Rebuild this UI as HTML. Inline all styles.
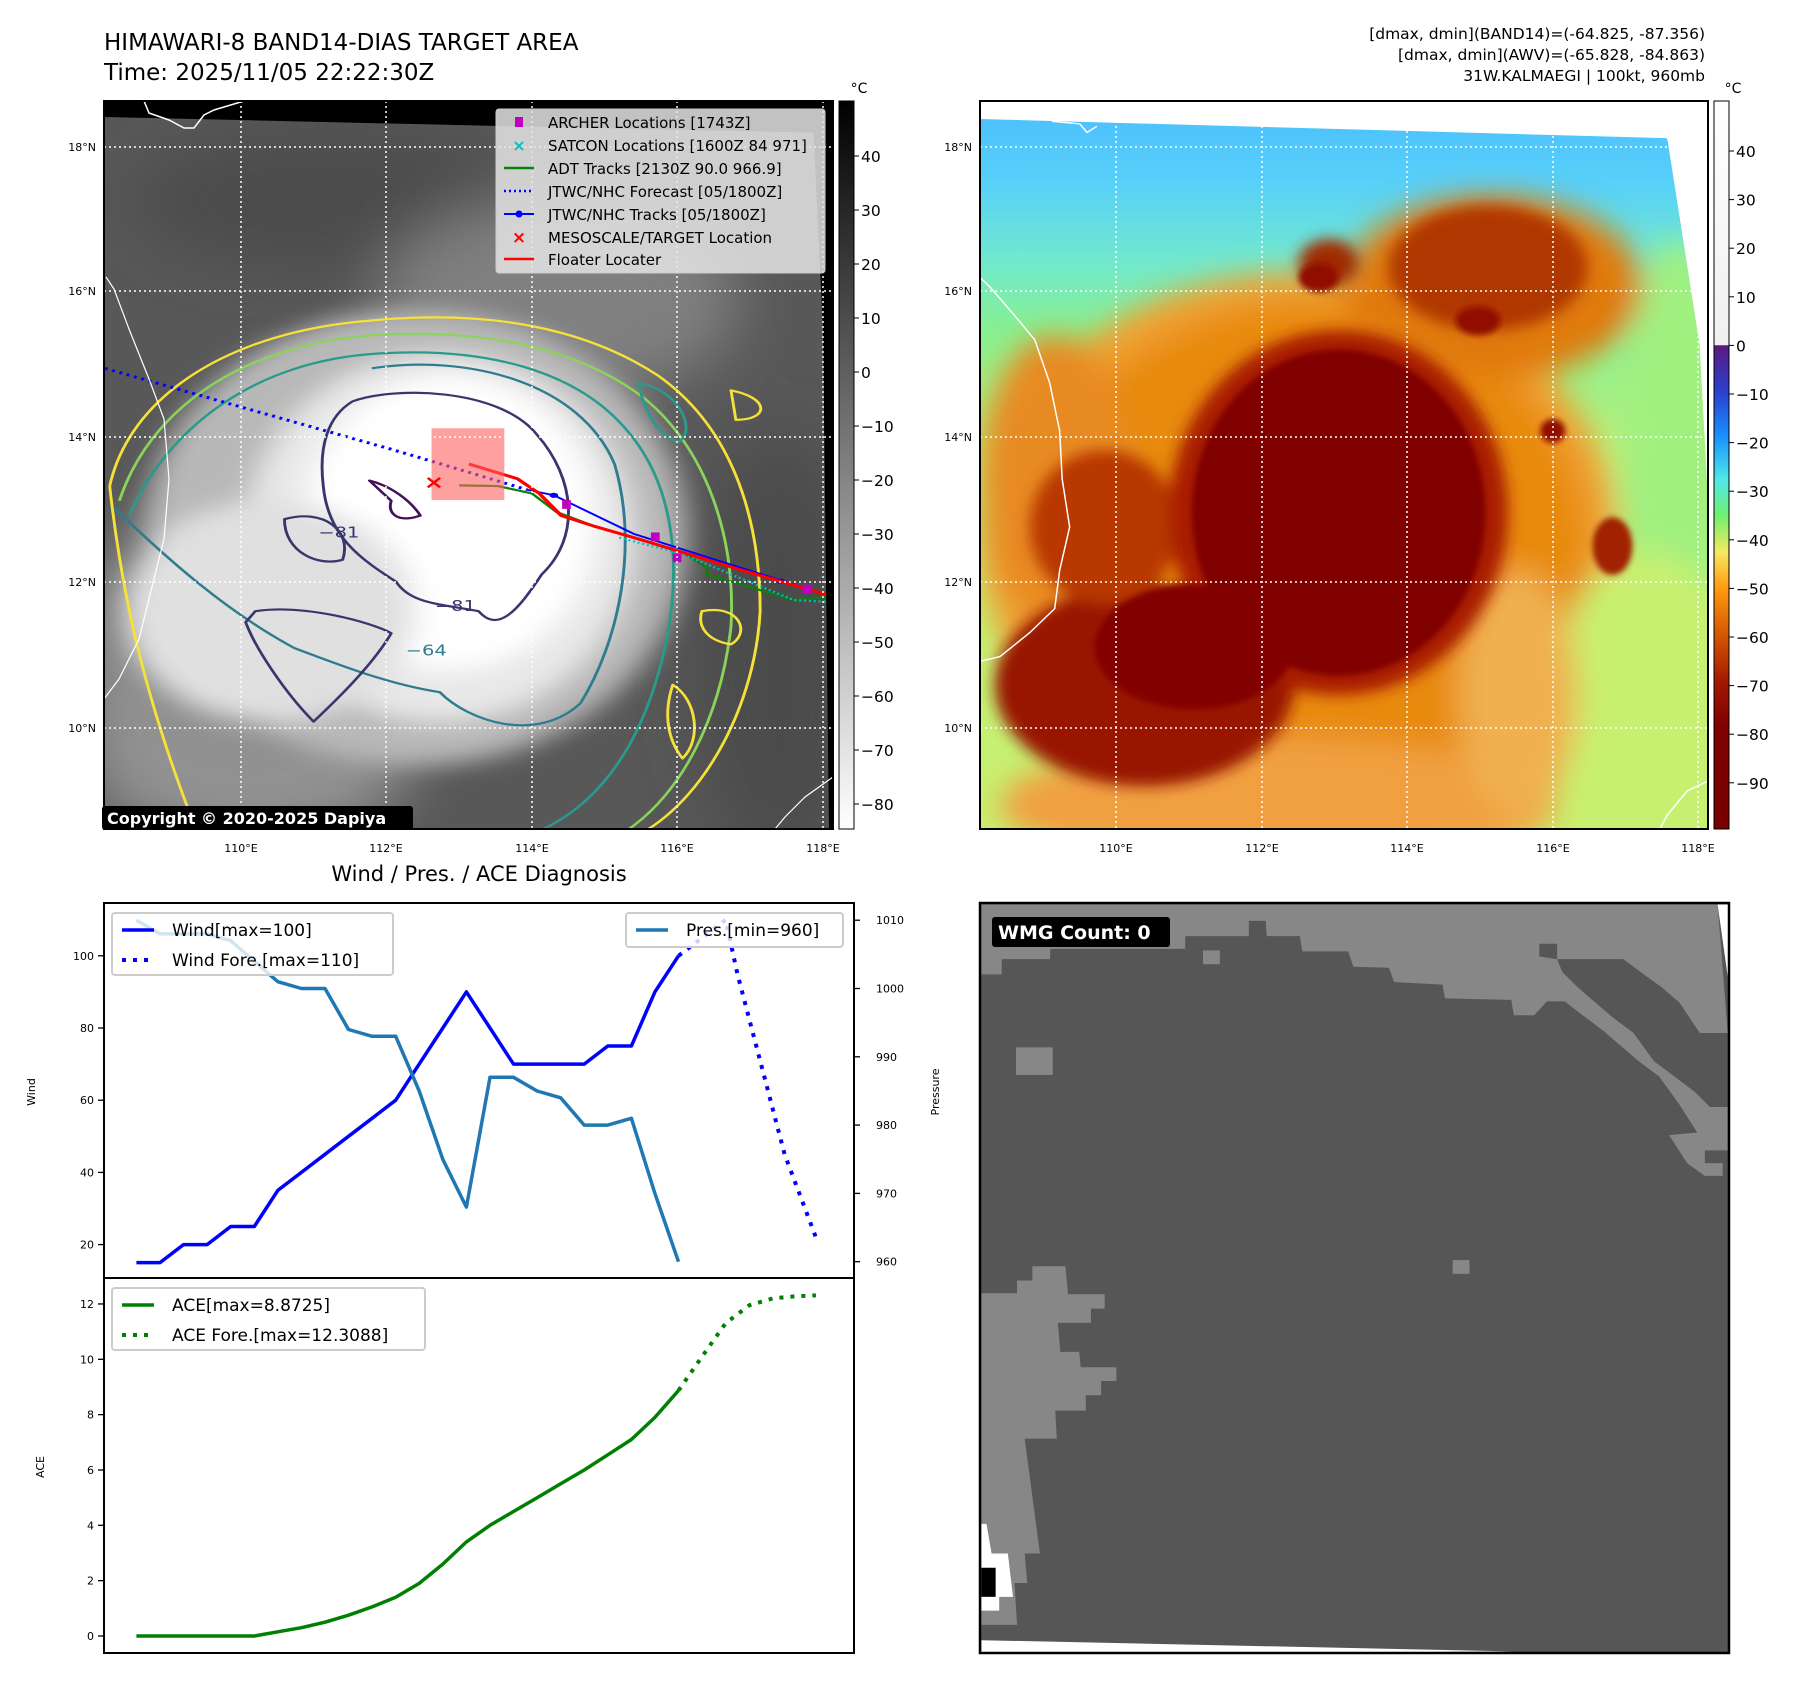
<!DOCTYPE html>
<html><head><meta charset="utf-8">
<style>
html,body{margin:0;padding:0;background:#fff;}
svg{display:block;font-family:"DejaVu Sans","Liberation Sans",sans-serif;}
</style></head>
<body>
<svg id="root" width="1797" height="1690" viewBox="0 0 1797 1690" xmlns="http://www.w3.org/2000/svg">
<defs>
  <filter id="blur6" x="-20%" y="-20%" width="140%" height="140%"><feGaussianBlur stdDeviation="6"/></filter>
  <filter id="blur15" x="-30%" y="-30%" width="160%" height="160%"><feGaussianBlur stdDeviation="15"/></filter>
  <filter id="blur30" x="-40%" y="-40%" width="180%" height="180%"><feGaussianBlur stdDeviation="30"/></filter>
  <linearGradient id="cbGray" x1="0" y1="0" x2="0" y2="1">
    <stop offset="0" stop-color="#000"/><stop offset="1" stop-color="#fff"/>
  </linearGradient>
  <linearGradient id="cbColor" x1="0" y1="101" x2="0" y2="829" gradientUnits="userSpaceOnUse">
    <stop offset="0" stop-color="#ffffff"/>
    <stop offset="0.335" stop-color="#f0f0f0"/>
    <stop offset="0.336" stop-color="#5a1a80"/>
    <stop offset="0.40" stop-color="#2a40d0"/>
    <stop offset="0.46" stop-color="#1890ff"/>
    <stop offset="0.52" stop-color="#50e8e8"/>
    <stop offset="0.57" stop-color="#70f070"/>
    <stop offset="0.62" stop-color="#f8e860"/>
    <stop offset="0.67" stop-color="#ff9a10"/>
    <stop offset="0.73" stop-color="#d85a00"/>
    <stop offset="0.80" stop-color="#a01800"/>
    <stop offset="0.86" stop-color="#800000"/>
    <stop offset="1" stop-color="#780000"/>
  </linearGradient>
  <linearGradient id="skyGrad" x1="0" y1="0" x2="0" y2="1">
    <stop offset="0" stop-color="#48bcff"/><stop offset="0.12" stop-color="#58d0f8"/><stop offset="0.22" stop-color="#70e8d0"/><stop offset="0.32" stop-color="#88f090"/><stop offset="0.5" stop-color="#c0f078"/><stop offset="1" stop-color="#c8f070"/>
  </linearGradient>
  <clipPath id="clipL"><rect x="104" y="101" width="729" height="728"/></clipPath>
  <clipPath id="clipR"><rect x="980" y="101" width="728" height="728"/></clipPath>
  <clipPath id="clipB"><rect x="980" y="903" width="749" height="750"/></clipPath>
</defs>

<!-- Titles -->
<text x="104" y="50" font-size="23" fill="#000">HIMAWARI-8 BAND14-DIAS TARGET AREA</text>
<text x="104" y="80" font-size="23" fill="#000">Time: 2025/11/05 22:22:30Z</text>
<g font-size="15.5" text-anchor="end" fill="#000">
  <text x="1705" y="39">[dmax, dmin](BAND14)=(-64.825, -87.356)</text>
  <text x="1705" y="60">[dmax, dmin](AWV)=(-65.828, -84.863)</text>
  <text x="1705" y="81">31W.KALMAEGI | 100kt, 960mb</text>
</g>

<!-- ============ LEFT MAP ============ -->
<g id="leftMap" clip-path="url(#clipL)">
  <rect x="104" y="101" width="729" height="728" fill="#585858"/>
  <g filter="url(#blur30)" opacity="0.8">
    <ellipse cx="330" cy="200" rx="200" ry="70" fill="#484848"/>
    <ellipse cx="780" cy="650" rx="90" ry="220" fill="#4a4a4a"/>
    <ellipse cx="150" cy="680" rx="80" ry="150" fill="#9a9a9a"/>
    <ellipse cx="560" cy="300" rx="180" ry="100" fill="#8a8a8a"/>
    <ellipse cx="250" cy="760" rx="160" ry="90" fill="#a0a0a0"/>
  </g>
  <g transform="translate(100,280) scale(0.4854,0.368)">
    <g filter="url(#blur30)">
      <ellipse cx="650" cy="700" rx="560" ry="620" fill="#b8b8b8"/>
      <ellipse cx="700" cy="700" rx="400" ry="500" fill="#e8e8e8"/>
      <ellipse cx="720" cy="660" rx="300" ry="400" fill="#ffffff"/>
      <ellipse cx="350" cy="900" rx="300" ry="300" fill="#e0e0e0"/>
    </g>
    <g fill="none" stroke-width="6" stroke-linejoin="round">
      <path d="M 20,560 C 60,320 260,140 560,110 C 800,80 1000,130 1150,260 C 1300,400 1360,640 1360,900 C 1350,1150 1250,1400 1120,1500 M 20,560 C 40,800 80,1100 200,1500" stroke="#f5e13a"/>
      <path d="M 40,600 C 100,360 280,180 560,150 C 800,130 990,190 1120,320 C 1250,460 1310,700 1300,940 C 1280,1180 1200,1400 1080,1500" stroke="#8ad45a"/>
      <path d="M 60,640 C 140,400 320,220 570,200 C 800,180 980,250 1080,400 C 1190,560 1200,800 1160,1020 C 1120,1240 1040,1420 900,1500" stroke="#2a9a8c"/>
      <path d="M 560,240 C 760,200 990,280 1060,500 C 1110,720 1070,980 990,1150 C 900,1260 760,1200 700,1120 C 600,1100 500,1050 400,1000 C 260,900 140,760 30,620" stroke="#2f7c8e"/>
      <path d="M 520,330 C 600,290 820,290 900,420 C 980,540 990,700 910,800 C 860,900 820,960 780,900 C 700,880 640,880 610,820 C 540,760 470,700 460,560 C 450,450 470,370 520,330 Z" stroke="#39366e"/>
      <path d="M 320,900 C 420,880 560,930 600,960 C 560,1050 480,1150 440,1200 C 380,1120 320,1000 300,930 Z" stroke="#39366e"/>
      <path d="M 380,650 C 460,620 520,680 500,760 C 450,780 380,740 380,650 Z" stroke="#39366e"/>
      <path d="M 555,545 C 600,560 640,600 660,640 C 620,660 590,640 600,600 Z" stroke="#44105a"/>
      <path d="M 1110,280 C 1200,300 1230,420 1190,440 C 1150,420 1120,360 1110,280 Z" stroke="#2a9a8c"/>
      <path d="M 1300,300 C 1380,320 1380,380 1310,380 Z" stroke="#f5e13a"/>
      <path d="M 1240,900 C 1320,880 1340,960 1300,990 C 1250,980 1230,940 1240,900 Z" stroke="#f5e13a"/>
      <path d="M 1180,1100 C 1230,1140 1240,1250 1200,1300 C 1170,1250 1160,1180 1180,1100 Z" stroke="#f5e13a"/>
    </g>
    <g font-size="40" fill="#39366e">
      <text x="690" y="900">−81</text><text x="450" y="700">−81</text><text x="630" y="1020" fill="#2f7c8e">−64</text>
    </g>
    <polyline points="10,240 290,345 600,460 690,495 880,570" fill="none" stroke="#0000ff" stroke-width="8" stroke-dasharray="6,10"/>
    <polyline points="880,570 935,585 1100,690 1400,815 1510,860" fill="none" stroke="#0000ff" stroke-width="5"/>
    <ellipse cx="935" cy="585" rx="9" ry="7" fill="#0000ff"/><ellipse cx="1402" cy="818" rx="9" ry="7" fill="#0000ff"/>
    <polyline points="740,558 820,560 890,580 940,630 1010,665 1200,740 1250,780 1250,800 1430,870 1510,860" fill="none" stroke="#0a820a" stroke-width="6"/>
    <polyline points="1070,700 1200,745 1300,800 1430,870 1510,875" fill="none" stroke="#00c0c0" stroke-width="6" stroke-dasharray="4,6"/>
    <polyline points="760,500 860,540 905,580 950,640 1020,670 1100,700 1300,780 1510,860" fill="none" stroke="#ff0000" stroke-width="8"/>
    <g fill="#c000c0"><rect x="952" y="598" width="18" height="24"/><rect x="1135" y="686" width="18" height="24"/><rect x="1180" y="743" width="18" height="24"/><rect x="1447" y="828" width="18" height="24"/></g>
    <rect x="683" y="403" width="150" height="195" fill="#ff6060" fill-opacity="0.6"/>
    <text x="688" y="566" font-size="50" fill="#ff0000" text-anchor="middle" font-weight="bold">×</text>
  </g>
  <polygon points="104,101 833,101 833,133 500,126 104,117" fill="#000"/>
  <polygon points="812,101 833,101 833,829 829,829 823,330" fill="#000"/>
  <polyline points="144,101 149,113 169,120 184,128 194,128 204,115 214,110 244,101" fill="none" stroke="#fff" stroke-width="1.5"/>
  <polyline points="106,277 114,289 129,329 149,379 164,419 169,479 164,539 149,599 139,639 119,679 104,699" fill="none" stroke="#fff" stroke-width="1.2"/>
  <polyline points="833,777 805,797 785,817 775,829" fill="none" stroke="#fff" stroke-width="1.2"/>
  <g stroke="#fff" stroke-width="1.5" stroke-dasharray="2,3">
    <line x1="104" y1="147" x2="833" y2="147"/><line x1="104" y1="291" x2="833" y2="291"/><line x1="104" y1="437" x2="833" y2="437"/><line x1="104" y1="582" x2="833" y2="582"/><line x1="104" y1="728" x2="833" y2="728"/>
    <line x1="241" y1="101" x2="241" y2="829"/><line x1="386" y1="101" x2="386" y2="829"/><line x1="532" y1="101" x2="532" y2="829"/><line x1="677" y1="101" x2="677" y2="829"/><line x1="823" y1="101" x2="823" y2="829"/>
  </g>
</g>
<rect x="104" y="101" width="729" height="728" fill="none" stroke="#000" stroke-width="2"/>
<g>
  <rect x="496" y="109" width="329" height="164" rx="3" fill="#e4e4e4" fill-opacity="0.85" stroke="#ccc"/>
  <g font-size="15" fill="#000">
    <rect x="515" y="117" width="8" height="10" fill="#c000c0"/><text x="548" y="128">ARCHER Locations [1743Z]</text>
    <text x="519" y="151" fill="#00c0c0" font-size="16" font-weight="bold" text-anchor="middle">×</text><text x="548" y="151">SATCON Locations [1600Z 84 971]</text>
    <line x1="504" y1="168" x2="534" y2="168" stroke="#0a820a" stroke-width="2.5"/><text x="548" y="174">ADT Tracks [2130Z 90.0 966.9]</text>
    <line x1="504" y1="191" x2="534" y2="191" stroke="#0000ff" stroke-width="2.5" stroke-dasharray="2,3"/><text x="548" y="197">JTWC/NHC Forecast [05/1800Z]</text>
    <line x1="504" y1="214" x2="534" y2="214" stroke="#0000ff" stroke-width="2"/><circle cx="519" cy="214" r="3.5" fill="#0000ff"/><text x="548" y="220">JTWC/NHC Tracks [05/1800Z]</text>
    <text x="519" y="243" fill="#ff0000" font-size="17" font-weight="bold" text-anchor="middle">×</text><text x="548" y="243">MESOSCALE/TARGET Location</text>
    <line x1="504" y1="259" x2="534" y2="259" stroke="#ff0000" stroke-width="2.5"/><text x="548" y="265">Floater Locater</text>
  </g>
</g>
<g>
  <rect x="102" y="806" width="311" height="24" rx="3" fill="#000"/>
  <text x="107" y="824" font-size="16" font-weight="bold" fill="#fff">Copyright © 2020-2025 Dapiya</text>
</g>
<g font-size="11" fill="#000" text-anchor="end">
  <text x="96" y="151">18°N</text><text x="96" y="295">16°N</text><text x="96" y="441">14°N</text><text x="96" y="586">12°N</text><text x="96" y="732">10°N</text>
</g>
<g font-size="11" fill="#000" text-anchor="middle">
  <text x="241" y="852">110°E</text><text x="386" y="852">112°E</text><text x="532" y="852">114°E</text><text x="677" y="852">116°E</text><text x="823" y="852">118°E</text>
</g>
<g>
  <rect x="839" y="101" width="15" height="728" fill="url(#cbGray)" stroke="#000" stroke-width="1"/>
  <text x="859" y="93" font-size="14" text-anchor="middle">°C</text>
  <g id="cbLticks" font-size="15.5"></g>
</g>

<!-- ============ RIGHT MAP ============ -->
<g clip-path="url(#clipR)">
  <rect x="980" y="101" width="728" height="728" fill="#f0a040"/>
  <g transform="translate(980,95) scale(0.498,0.48)">
    <rect x="0" y="0" width="1470" height="1540" fill="url(#skyGrad)"/>
    <g filter="url(#blur30)">
      <ellipse cx="1400" cy="800" rx="110" ry="500" fill="#a0f080"/>
      <ellipse cx="640" cy="930" rx="640" ry="560" fill="#f0a030"/>
      <ellipse cx="660" cy="950" rx="560" ry="520" fill="#e88a10"/>
      <ellipse cx="1030" cy="400" rx="300" ry="190" fill="#e07a10"/>
      <ellipse cx="150" cy="800" rx="150" ry="300" fill="#e88a20"/>
      <ellipse cx="600" cy="1480" rx="560" ry="140" fill="#f0a040"/>
      <ellipse cx="1340" cy="1250" rx="180" ry="300" fill="#c8f070"/>
      <ellipse cx="1080" cy="1250" rx="120" ry="260" fill="#f0b050"/>
    </g>
    <g filter="url(#blur15)">
      <ellipse cx="1020" cy="360" rx="200" ry="130" fill="#b03800"/>
      <ellipse cx="700" cy="350" rx="60" ry="50" fill="#a02a00"/>
      <ellipse cx="330" cy="1230" rx="300" ry="210" fill="#981400"/>
      <ellipse cx="250" cy="900" rx="150" ry="160" fill="#b83800"/>
      <ellipse cx="720" cy="870" rx="340" ry="380" fill="#a81c00"/>
    </g>
    <g filter="url(#blur6)">
      <ellipse cx="720" cy="870" rx="295" ry="340" fill="#800000"/>
      <ellipse cx="430" cy="1150" rx="200" ry="130" fill="#820200"/>
      <ellipse cx="1000" cy="470" rx="45" ry="30" fill="#901000"/>
      <ellipse cx="1150" cy="700" rx="25" ry="25" fill="#901000"/>
      <ellipse cx="1270" cy="940" rx="40" ry="60" fill="#a02000"/>
      <ellipse cx="680" cy="380" rx="40" ry="30" fill="#901000"/>
    </g>
    <polygon points="0,0 1470,0 1470,95 1380,95 1380,90 0,50" fill="#fff"/>
    <polygon points="1380,90 1470,90 1470,1000 1445,520" fill="#fff"/>
    <polyline points="145,55 200,60 215,78 235,65" fill="none" stroke="#fff" stroke-width="3"/>
    <polyline points="0,380 20,400 70,460 110,510 140,600 160,700 165,800 180,900 160,990 150,1070 100,1120 40,1170 0,1180" fill="none" stroke="#fff" stroke-width="3"/>
    <polyline points="1460,1430 1420,1450 1380,1500 1360,1540" fill="none" stroke="#fff" stroke-width="3"/>
  </g>
  <g stroke="#fff" stroke-width="1.5" stroke-dasharray="2,3">
    <line x1="980" y1="147" x2="1708" y2="147"/><line x1="980" y1="291" x2="1708" y2="291"/><line x1="980" y1="437" x2="1708" y2="437"/><line x1="980" y1="582" x2="1708" y2="582"/><line x1="980" y1="728" x2="1708" y2="728"/>
    <line x1="1116" y1="101" x2="1116" y2="829"/><line x1="1262" y1="101" x2="1262" y2="829"/><line x1="1407" y1="101" x2="1407" y2="829"/><line x1="1553" y1="101" x2="1553" y2="829"/><line x1="1698" y1="101" x2="1698" y2="829"/>
  </g>
</g>
<rect x="980" y="101" width="728" height="728" fill="none" stroke="#000" stroke-width="2"/>
<g font-size="11" fill="#000" text-anchor="end">
  <text x="972" y="151">18°N</text><text x="972" y="295">16°N</text><text x="972" y="441">14°N</text><text x="972" y="586">12°N</text><text x="972" y="732">10°N</text>
</g>
<g font-size="11" fill="#000" text-anchor="middle">
  <text x="1116" y="852">110°E</text><text x="1262" y="852">112°E</text><text x="1407" y="852">114°E</text><text x="1553" y="852">116°E</text><text x="1698" y="852">118°E</text>
</g>
<g>
  <rect x="1714" y="101" width="15" height="728" fill="url(#cbColor)" stroke="#000" stroke-width="1"/>
  <text x="1733" y="93" font-size="14" text-anchor="middle">°C</text>
  <g id="cbRticks" font-size="15.5"></g>
</g>

<!-- ============ CHART ============ -->
<text x="479" y="881" font-size="21" text-anchor="middle">Wind / Pres. / ACE Diagnosis</text>
<g id="chart"></g>

<!-- ============ WMG PANEL ============ -->
<g clip-path="url(#clipB)">
  <rect x="980" y="903" width="749" height="750" fill="#565656"/>
  <g transform="translate(961,880) scale(0.5095,0.5102)">
    <polygon fill="#878787" points="40,48 1485,48 1505,300 1450,300 1410,240 1375,210 1340,185 1300,155 1170,155 1170,125 1135,125 1135,150 1170,155 1180,180 1210,210 1245,240 1280,270 1320,300 1360,355 1400,385 1440,415 1470,445 1505,445 1505,530 1460,530 1460,555 1495,555 1495,580 1460,580 1425,555 1390,500 1445,495 1410,440 1370,385 1330,355 1295,325 1260,295 1220,265 1185,238 1150,238 1125,265 1085,265 1080,235 950,232 945,205 850,200 840,172 770,170 760,140 670,140 665,110 600,110 598,80 565,80 565,110 440,110 440,135 175,135 175,155 80,155 80,185 40,185"/>
    <polygon fill="#878787" points="40,810 110,810 110,785 140,785 140,757 205,757 210,812 282,812 282,840 255,840 255,868 190,868 195,925 232,925 235,955 305,955 305,982 275,982 275,1010 245,1010 245,1040 185,1040 188,1095 125,1095 155,1320 125,1320 130,1378 105,1378 110,1460 40,1460"/>
    <polygon fill="#fff" points="40,1262 50,1262 60,1320 92,1320 102,1405 75,1405 75,1432 40,1432"/>
    <rect x="40" y="1348" width="28" height="57" fill="#000"/>
    <rect x="108" y="328" width="72" height="54" fill="#878787"/>
    <rect x="475" y="138" width="33" height="27" fill="#878787"/>
    <rect x="965" y="745" width="33" height="27" fill="#878787"/>
    <polygon fill="#fff" points="40,1490 1080,1512 40,1520"/>
    <polygon fill="#fff" points="1485,48 1510,48 1505,190"/>
  </g>
</g>
<rect x="980" y="903" width="749" height="750" fill="none" stroke="#000" stroke-width="2.5"/>
<g>
  <rect x="992" y="917" width="178" height="30" rx="3" fill="#000"/>
  <text x="998" y="939" font-size="19" font-weight="bold" fill="#fff">WMG Count: 0</text>
</g>

<script>
// ---- chart data ----
const windIdx = [0,1,2,3,4,5,6,7,8,9,10,11,12,13,14,15,16,17,18,19,20,21,22,23];
const windVals = [15,15,20,20,25,25,35,40,45,50,55,60,70,80,90,80,70,70,70,70,75,75,90,100];
const windForeIdx = [23,24,25,25.5,26.5,27.5,28.83];
const windForeVals = [100,105,110,95,70,45,22];
const presIdx = [0,1,2,3,4,5,6,7,8,9,10,11,12,13,14,15,16,17,18,19,20,21,22,23];
const presVals = [1010,1008,1008,1008,1007,1004,1001,1000,1000,994,993,993,985,975,968,987,987,985,984,980,980,981,970,960];
const aceIdx = [0,1,2,3,4,5,6,7,8,9,10,11,12,13,14,15,16,17,18,19,20,21,22,23];
const aceVals = [0,0,0,0,0,0,0.15,0.3,0.5,0.75,1.05,1.4,1.9,2.6,3.4,4.0,4.5,5.0,5.5,6.0,6.55,7.1,7.9,8.8725];
const aceForeIdx = [23,24,25,26,27,28,28.83];
const aceForeVals = [8.8725,10.1,11.3,11.95,12.2,12.28,12.3088];
const windTicks = [20,40,60,80,100];
const presTicks = [960,970,980,990,1000,1010];
const aceTicks = [0,2,4,6,8,10,12];
const cbLTicks = [40,30,20,10,0,-10,-20,-30,-40,-50,-60,-70,-80];
const cbRTicks = [40,30,20,10,0,-10,-20,-30,-40,-50,-60,-70,-80,-90];

const NS='http://www.w3.org/2000/svg';
function mk(tag, attrs, parent){const e=document.createElementNS(NS,tag);for(const k in attrs)e.setAttribute(k,attrs[k]);parent.appendChild(e);return e;}
const L=104,R=854,T1=903,B1=1278,T2=1278,B2=1653;
const xS = i => 136.4 + i*23.57;
const yW = v => 1244.6 - (v-20)*3.61;
const yP = v => 1261.7 - (v-960)*6.83;
const yA = v => 1636 - v*27.67;
const chart=document.getElementById('chart');

function line(xs, ys, xf, yf, color, w, dash, name){
  const pts = xs.map((x,i)=>xf(x).toFixed(1)+','+yf(ys[i]).toFixed(1)).join(' ');
  const p = mk('polyline',{points:pts,fill:'none',stroke:color,'stroke-width':w,'stroke-linejoin':'round'},chart);
  if(dash) p.setAttribute('stroke-dasharray',dash);
  
  
  return p;
}
line(windIdx, windVals, xS, yW, '#0000ff', 3.5, null, 'wind-line');
line(windForeIdx, windForeVals, xS, yW, '#0000ff', 4, '4,7', 'wind-forecast-line');
line(presIdx, presVals, xS, yP, '#1f77b4', 3.5, null, 'pressure-line');
line(aceIdx, aceVals, xS, yA, '#008000', 3.5, null, 'ace-line');
line(aceForeIdx, aceForeVals, xS, yA, '#008000', 4, '4,7', 'ace-forecast-line');

mk('rect',{x:L,y:T1,width:R-L,height:B2-T1,fill:'none',stroke:'#000','stroke-width':2},chart);
mk('line',{x1:L,y1:T2,x2:R,y2:T2,stroke:'#000','stroke-width':2},chart);

windTicks.forEach(v=>{
  const y=yW(v);
  mk('line',{x1:L-6,y1:y,x2:L,y2:y,stroke:'#000','stroke-width':1.3},chart);
  const t=mk('text',{x:L-10,y:y+4,'font-size':11,'text-anchor':'end'},chart); t.textContent=v;
  
  
});
presTicks.forEach(v=>{
  const y=yP(v);
  mk('line',{x1:R,y1:y,x2:R+6,y2:y,stroke:'#000','stroke-width':1.3},chart);
  const t=mk('text',{x:R+22,y:y+4,'font-size':11},chart); t.textContent=v;
  
  
});
aceTicks.forEach(v=>{
  const y=yA(v);
  mk('line',{x1:L-6,y1:y,x2:L,y2:y,stroke:'#000','stroke-width':1.3},chart);
  const t=mk('text',{x:L-10,y:y+4,'font-size':11,'text-anchor':'end'},chart); t.textContent=v;
  
  
});
let at=mk('text',{x:0,y:0,'font-size':11,'text-anchor':'middle',transform:'translate(35,1092) rotate(-90)'},chart); at.textContent='Wind';


at=mk('text',{x:0,y:0,'font-size':11,'text-anchor':'middle',transform:'translate(939,1092) rotate(-90)'},chart); at.textContent='Pressure';


at=mk('text',{x:0,y:0,'font-size':11,'text-anchor':'middle',transform:'translate(44,1467) rotate(-90)'},chart); at.textContent='ACE';



function legend(x,y,w,h,items,name){
  const g=mk('g',{},chart);
  
  
  mk('rect',{x:x,y:y,width:w,height:h,rx:3,fill:'#fff','fill-opacity':0.8,stroke:'#ccc','stroke-width':2},g);
  items.forEach((it,i)=>{
    const yy=y+17+i*30;
    const l=mk('line',{x1:x+10,y1:yy,x2:x+42,y2:yy,stroke:it[1],'stroke-width':it[2]?4:3.5},g);
    if(it[2]) l.setAttribute('stroke-dasharray','4,7');
    const t=mk('text',{x:x+60,y:yy+6,'font-size':17},g); t.textContent=it[0];
  });
}
legend(112,913,281,62,[['Wind[max=100]','#0000ff',false],['Wind Fore.[max=110]','#0000ff',true]],'wind-legend');
legend(626,913,217,34,[['Pres.[min=960]','#1f77b4',false]],'pressure-legend');
legend(112,1288,313,62,[['ACE[max=8.8725]','#008000',false],['ACE Fore.[max=12.3088]','#008000',true]],'ace-legend');

const gL=document.getElementById('cbLticks');
cbLTicks.forEach(v=>{
  const y=156+(40-v)*5.4;
  mk('line',{x1:854,y1:y,x2:859,y2:y,stroke:'#000'},gL);
  const t=mk('text',{x:861,y:y+6},gL); t.textContent=(v<0?'\u2212'+(-v):v);
  
  
});
const gR=document.getElementById('cbRticks');
cbRTicks.forEach(v=>{
  const y=151+(40-v)*4.86;
  mk('line',{x1:1729,y1:y,x2:1734,y2:y,stroke:'#000'},gR);
  const t=mk('text',{x:1736,y:y+6},gR); t.textContent=(v<0?'\u2212'+(-v):v);
  
  
});
</script>
</svg>
</body></html>
